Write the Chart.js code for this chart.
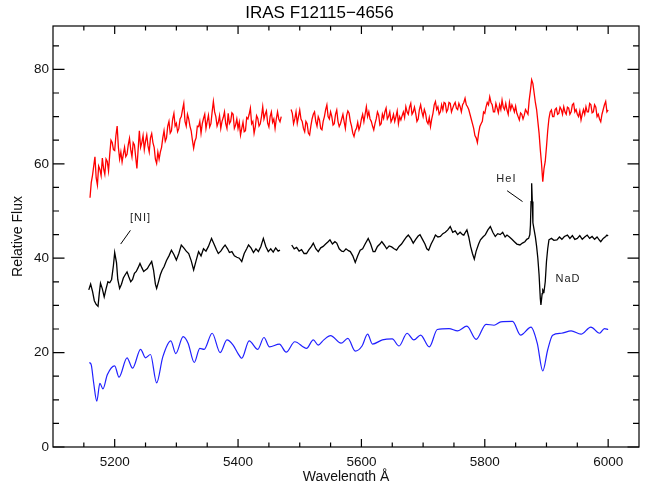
<!DOCTYPE html>
<html><head><meta charset="utf-8">
<script src="https://cdn.jsdelivr.net/npm/chart.js@4.4.1/dist/chart.umd.min.js"></script>
<style>html,body{margin:0;padding:0;background:#fff;}#wrap{width:648px;height:481px;}</style>
</head><body><div id="wrap"><canvas id="c" width="648" height="481"></canvas></div>
<script>
const TITLE = 'IRAS F12115\u22124656';
const X_TITLE = 'Wavelength \u00C5';
const Y_TITLE = 'Relative Flux';
const X_MAJOR = [5200, 5400, 5600, 5800, 6000];
const X_MINOR = [5150, 5250, 5300, 5350, 5450, 5500, 5550, 5650, 5700, 5750, 5850, 5900, 5950];
const Y_MAJOR = [0, 20, 40, 60, 80];
const Y_MINOR = [5, 10, 15, 25, 30, 35, 45, 50, 55, 65, 70, 75, 85];

// red spectrum: sampled every 2 A from 5160 A (null = gap)
const RED_START = 5160, RED_STEP = 2;
const redFlux = [
  52.8, 56.0, 57.5, 59.5, 61.5, 57.0, 55.5, 59.5, 58.8, 57.5, 61.2, 59.0, 57.8, 61.0, 60.5, 58.5, 62.0, 65.0, 64.5, 63.0,
  62.8, 66.0, 68.0, 63.5, 61.0, 62.5, 60.4, 62.0, 63.5, 61.5, 62.0, 64.0, 65.4, 63.0, 61.5, 64.5, 64.0, 61.5, 59.0, 63.0,
  67.0, 63.5, 64.5, 66.0, 63.0, 64.8, 66.1, 63.8, 62.5, 65.5, 66.4, 64.5, 63.5, 61.0, 60.1, 62.5, 61.0, 62.5, 63.5, 65.5,
  67.0, 64.8, 65.5, 68.0, 69.0, 66.5, 67.0, 69.5, 70.7, 68.0, 68.6, 66.8, 67.5, 69.5, 70.0, 71.5, 72.8, 69.0, 68.0, 70.5,
  69.5, 68.0, 67.0, 65.0, 63.3, 64.8, 65.5, 68.0, 67.9, 69.0, 66.5, 68.5, 69.6, 70.5, 67.5, 69.0, 70.3, 67.8, 68.5, 71.0,
  73.2, 71.0, 70.0, 68.0, 68.8, 70.2, 67.5, 69.0, 69.8, 71.0, 68.5, 67.5, 70.7, 68.5, 69.0, 70.8, 70.5, 67.5, 68.2, 69.5,
  67.5, 68.8, 66.1, 67.5, 68.8, 66.8, 67.0, 69.8, 69.5, 70.5, 71.8, 68.5, 69.0, 66.5, 67.9, 70.2, 69.6, 68.0, 68.5, 70.0,
  72.1, 69.5, 70.5, 71.2, 68.6, 67.8, 70.0, 71.0, 68.8, 69.5, 67.5, 69.5, 71.0, 69.5, 68.9, 70.0, null, null, null, null,
  null, null, null, 71.5, 70.7, 68.5, 69.5, 71.0, 68.6, 70.0, 71.4, 69.5, 69.0, 67.5, 66.8, 69.0, 68.5, 66.5, 66.1, 68.0,
  69.5, 70.5, 71.0, 69.0, 68.0, 70.0, 69.3, 67.5, 67.2, 69.0, 70.0, 71.5, 72.5, 70.0, 69.5, 71.0, 70.0, 68.2, 68.5, 70.5,
  71.4, 69.0, 67.9, 68.5, 69.5, 70.5, 68.9, 67.5, 70.2, 71.2, 70.7, 69.0, 68.0, 66.5, 65.8, 67.0, 67.5, 68.8, 67.2, 68.0,
  69.5, 70.5, 68.9, 70.5, 72.1, 70.0, 71.0, 69.5, 69.0, 68.0, 67.2, 68.5, 69.5, 71.0, 70.3, 68.2, 68.5, 70.5, 69.6, 71.0,
  71.8, 69.5, 70.0, 71.0, 68.9, 69.5, 70.5, 69.0, 70.0, 71.2, 68.5, 70.0, 69.3, 70.2, 71.0, 69.8, 72.1, 71.0, 70.5, 72.0,
  72.8, 70.5, 71.0, 72.0, 70.7, 69.0, 69.5, 71.5, 72.5, 71.0, 70.0, 71.5, 70.7, 69.0, 68.5, 69.8, 67.9, 69.5, 70.7, 72.5,
  73.2, 71.5, 72.1, 70.5, 71.0, 72.5, 71.4, 73.0, 72.8, 71.0, 71.5, 73.0, 72.8, 71.0, 71.8, 72.5, 73.0, 71.8, 71.5, 72.8,
  72.1, 71.0, 72.5, 73.0, 73.9, 72.5, 72.1, 71.5, 70.5, 69.5, 68.5, 67.5, 66.0, 65.5, 64.5, 66.5, 67.9, 68.5, 69.0, 71.0,
  70.7, 72.0, 73.0, 72.5, 74.2, 73.0, 72.5, 71.0, 71.0, 72.8, 71.8, 70.8, 72.5, 71.5, 73.5, 72.0, 71.5, 72.8, 71.4, 70.5,
  73.0, 71.5, 72.5, 71.8, 71.0, 72.2, 70.7, 70.0, 69.3, 70.8, 70.5, 69.5, 70.3, 71.5, 71.0, 70.5, 73.5, 75.5, 77.8, 77.0,
  75.0, 73.0, 71.5, 69.0, 66.5, 63.0, 60.0, 56.2, 59.0, 60.5, 63.6, 67.0, 69.6, 71.0, 71.4, 70.0, 70.0, 71.5, 71.8, 70.5,
  70.7, 72.0, 71.5, 70.5, 72.1, 71.0, 70.5, 72.0, 71.8, 70.5, 71.0, 72.5, 72.8, 71.0, 71.5, 70.5, 70.0, 71.2, 69.3, 70.5,
  71.5, 70.5, 72.1, 71.0, 71.0, 72.8, 72.5, 70.8, 71.0, 72.5, 72.0, 70.0, 70.5, 69.5, 68.9, 70.5, 71.5, 72.5, 73.2, 71.0,
  71.4
];

const blackWave = [
  5158, 5161, 5164, 5167, 5170, 5173, 5175, 5177, 5180, 5183, 5186, 5189, 5192, 5195, 5198, 5200,
  5203, 5205, 5208, 5211, 5214, 5217, 5220, 5223, 5226, 5229, 5232, 5235, 5238, 5241, 5244, 5247,
  5250, 5253, 5256, 5260, 5263, 5266, 5268, 5271, 5274, 5277, 5280, 5284, 5288, 5292, 5296, 5300,
  5304, 5308, 5312, 5316, 5320, 5324, 5328, 5332, 5336, 5340, 5344, 5348, 5352, 5357, 5361, 5365,
  5368, 5372, 5376, 5379, 5383, 5386, 5390, 5394, 5398, 5402, 5406, 5410, 5414, 5417, 5421, 5425,
  5429, 5433, 5437, 5441, 5445, 5449, 5453, 5457, 5461, 5465, 5468, 5477,
  5487, 5491, 5495, 5499, 5503, 5507, 5511, 5515, 5519, 5522, 5526, 5530, 5534, 5538, 5542, 5546,
  5549, 5553, 5557, 5560, 5564, 5568, 5571, 5575, 5579, 5582, 5586, 5590, 5594, 5598, 5602, 5606,
  5611, 5615, 5619, 5622, 5626, 5630, 5633, 5637, 5641, 5645, 5649, 5653, 5657, 5661, 5665, 5669,
  5673, 5676, 5680, 5684, 5688, 5692, 5695, 5699, 5703, 5706, 5709, 5713, 5717, 5720, 5724, 5728,
  5732, 5736, 5740, 5744, 5748, 5752, 5756, 5760, 5764, 5766, 5769, 5771, 5774, 5777, 5780, 5783,
  5786, 5790, 5793, 5797, 5801, 5805, 5809, 5813, 5817, 5821, 5825, 5829, 5833, 5836, 5840, 5844,
  5848, 5852, 5857, 5861, 5865, 5868, 5871, 5873, 5874, 5875, 5876, 5877, 5878, 5880, 5882, 5884,
  5886, 5888, 5890, 5891, 5893, 5894, 5896, 5898, 5900, 5902, 5904, 5908, 5912, 5917, 5921, 5925,
  5929, 5934, 5938, 5942, 5946, 5950, 5954, 5958, 5962, 5966, 5970, 5974, 5978, 5982, 5986, 5988,
  5992, 5996, 5998, 6000
];
const blackFlux = [
  33.3, 34.5, 33.0, 31.0, 30.2, 29.8, 32.5, 34.7, 33.5, 31.8, 33.5, 35.0, 34.8, 35.5, 38.5, 41.2,
  39.0, 35.5, 33.6, 34.5, 35.8, 36.5, 37.1, 36.0, 35.0, 35.5, 36.8, 37.2, 38.0, 38.9, 38.0, 37.2,
  37.5, 37.8, 38.5, 39.3, 37.5, 34.5, 33.6, 35.0, 36.5, 37.5, 38.2, 39.5, 40.5, 41.7, 40.8, 39.6,
  41.0, 42.8, 42.2, 41.5, 41.0, 39.5, 37.5, 39.5, 41.4, 40.5, 42.0, 41.5, 42.5, 44.2, 43.0, 41.8,
  41.0, 41.5, 42.3, 42.8, 42.0, 41.2, 41.4, 40.5, 40.2, 40.0, 39.3, 41.0, 42.0, 42.8, 42.2, 41.2,
  42.0, 41.4, 42.5, 44.2, 42.5, 41.4, 42.0, 41.3, 42.2, 41.5, 41.7, null,
  42.8, 42.0, 42.3, 41.5, 41.8, 41.0, 41.0, 41.8, 42.5, 43.2, 42.0, 41.4, 42.2, 42.5, 43.0, 43.5,
  43.9, 43.0, 43.5, 43.2, 42.0, 41.5, 41.4, 42.0, 41.6, 41.4, 40.5, 39.1, 40.5, 41.7, 42.0, 43.0,
  44.2, 43.0, 41.4, 41.4, 42.5, 43.0, 43.5, 42.8, 42.0, 42.6, 42.4, 42.0, 41.7, 42.5, 43.0, 43.8,
  44.5, 44.9, 44.2, 43.2, 44.0, 44.7, 45.0, 44.0, 43.0, 42.0, 41.7, 43.0, 44.0, 44.9, 44.5, 44.6,
  45.2, 45.5, 46.0, 46.7, 45.5, 45.8, 45.0, 45.5, 45.0, 44.9, 45.6, 46.0, 44.5, 42.5, 41.0, 39.8,
  41.5, 43.0, 43.9, 44.5, 45.0, 46.0, 46.7, 45.5, 44.6, 45.2, 45.0, 45.5, 44.5, 44.9, 44.5, 44.0,
  43.5, 43.0, 42.8, 43.2, 43.5, 44.0, 44.2, 45.0, 47.0, 52.0, 55.9, 52.0, 47.5, 46.0, 44.5, 42.5,
  40.0, 36.5, 31.5, 30.1, 32.5, 33.3, 32.9, 35.0, 39.3, 42.0, 43.9, 44.2, 43.8, 43.9, 44.5, 44.0,
  44.6, 44.9, 44.2, 44.8, 44.0, 44.2, 44.8, 44.0, 44.5, 44.9, 44.2, 44.6, 44.0, 44.5, 43.8, 43.5,
  44.2, 44.6, 44.9, 44.7
];

const blueWave = [
  5159, 5162, 5166, 5171, 5176, 5181, 5188, 5200, 5207, 5220, 5229, 5242, 5250, 5258, 5268, 5278,
  5291, 5299, 5311, 5319, 5329, 5338, 5345, 5358, 5371, 5382, 5392, 5400, 5406, 5418, 5432, 5442,
  5451, 5467, 5478, 5492, 5511, 5522, 5530, 5539, 5550, 5567, 5578, 5590, 5601, 5610, 5618, 5634,
  5650, 5661, 5674, 5685, 5696, 5710, 5723, 5742, 5756, 5771, 5786, 5802, 5815, 5826, 5845, 5858,
  5875, 5885, 5894, 5902, 5910, 5924, 5940, 5956, 5972, 5986, 5994, 6000
];
const blueFlux = [
  17.9, 17.4, 13.5, 9.7, 13.5, 12.3, 15.3, 17.2, 14.8, 18.9, 16.7, 20.7, 18.9, 19.6, 13.6, 19.1,
  22.5, 19.8, 23.4, 22.0, 17.9, 20.9, 20.7, 24.1, 20.0, 22.7, 21.6, 19.8, 18.8, 22.5, 20.7, 23.2,
  21.2, 21.8, 20.1, 22.3, 20.9, 22.7, 21.6, 22.7, 23.6, 22.0, 23.0, 20.3, 21.4, 23.9, 21.8, 22.7,
  22.9, 21.4, 24.1, 22.7, 23.7, 21.2, 24.9, 25.1, 24.6, 25.6, 22.8, 26.0, 25.8, 26.5, 26.6, 23.7,
  25.4, 22.0, 16.1, 20.6, 23.7, 24.1, 24.6, 23.9, 25.4, 24.1, 25.1, 24.9
];

const LINE_LABELS = [
  { text: '[NI]', x: 5242, y: 48.6, from: [5209.7, 43.0], to: [5225.5, 45.9] },
  { text: 'HeI', x: 5835, y: 56.8, from: [5836.2, 54.3], to: [5861.2, 52.0] },
  { text: 'NaD', x: 5935, y: 35.7, from: null, to: null }
];

const redPts = redFlux.map((v, i) => ({ x: RED_START + i * RED_STEP, y: v }));
const blackPts = blackWave.map((w, i) => ({ x: w, y: blackFlux[i] }));
const bluePts = blueWave.map((w, i) => ({ x: w, y: blueFlux[i] }));

const framePlugin = {
  id: 'frame',
  afterDatasetsDraw(chart) {
    const { ctx, chartArea: a, scales: { x, y } } = chart;
    ctx.save();
    ctx.strokeStyle = '#000';
    ctx.lineWidth = 1.2;
    ctx.strokeRect(a.left, a.top, a.right - a.left, a.bottom - a.top);
    ctx.beginPath();
    const tx = (v, len) => {
      const p = x.getPixelForValue(v);
      ctx.moveTo(p, a.bottom); ctx.lineTo(p, a.bottom - len);
      ctx.moveTo(p, a.top); ctx.lineTo(p, a.top + len);
    };
    const ty = (v, len) => {
      const p = y.getPixelForValue(v);
      ctx.moveTo(a.left, p); ctx.lineTo(a.left + len, p);
      ctx.moveTo(a.right, p); ctx.lineTo(a.right - len, p);
    };
    X_MAJOR.forEach(v => tx(v, 8));
    X_MINOR.forEach(v => tx(v, 4.5));
    Y_MAJOR.forEach(v => ty(v, 11.5));
    Y_MINOR.forEach(v => ty(v, 6));
    ctx.stroke();

    ctx.fillStyle = '#222';
    ctx.strokeStyle = '#000';
    ctx.lineWidth = 1;
    ctx.font = '11px "Liberation Sans", Arial, sans-serif';
    ctx.textAlign = 'center';
    ctx.textBaseline = 'middle';
    try { ctx.letterSpacing = '1px'; } catch (e) {}
    LINE_LABELS.forEach(l => {
      ctx.fillText(l.text, x.getPixelForValue(l.x), y.getPixelForValue(l.y));
      if (l.from) {
        ctx.beginPath();
        ctx.moveTo(x.getPixelForValue(l.from[0]), y.getPixelForValue(l.from[1]));
        ctx.lineTo(x.getPixelForValue(l.to[0]), y.getPixelForValue(l.to[1]));
        ctx.stroke();
      }
    });
    ctx.restore();
  }
};

const FONT = '"Liberation Sans", Arial, Helvetica, sans-serif';

new Chart(document.getElementById('c'), {
  type: 'line',
  data: {
    datasets: [
      { label: 'red', data: redPts, borderColor: '#ff0000', borderWidth: 1.3, pointRadius: 0, tension: 0, spanGaps: false },
      { label: 'black', data: blackPts, borderColor: '#000000', borderWidth: 1.3, pointRadius: 0, tension: 0, spanGaps: false },
      { label: 'blue', data: bluePts, borderColor: '#2020ff', borderWidth: 1.2, pointRadius: 0, cubicInterpolationMode: 'monotone' }
    ]
  },
  options: {
    responsive: false,
    animation: false,
    devicePixelRatio: 1,
    layout: { padding: { left: 0, right: 9, top: 0, bottom: 0 } },
    plugins: {
      legend: { display: false },
      tooltip: { enabled: false },
      title: {
        display: true, text: TITLE, color: '#000',
        font: { family: FONT, size: 17, weight: 'normal', lineHeight: 1.2 },
        padding: { top: 3, bottom: 2.6 }
      }
    },
    scales: {
      x: {
        type: 'linear', min: 5100, max: 6050,
        grid: { display: false, drawTicks: false },
        border: { display: false },
        afterBuildTicks: s => { s.ticks = X_MAJOR.map(v => ({ value: v })); },
        afterFit: s => { s.height = 34; },
        ticks: { color: '#111', font: { family: FONT, size: 13.5 }, padding: 7, maxRotation: 0, autoSkip: false, callback: v => String(v) },
        title: { display: true, text: X_TITLE, color: '#111', font: { family: FONT, size: 14, lineHeight: 0.6 }, padding: 0 }
      },
      y: {
        type: 'linear', min: 0, max: 89.2,
        grid: { display: false, drawTicks: false },
        border: { display: false },
        afterBuildTicks: s => { s.ticks = Y_MAJOR.map(v => ({ value: v })); },
        afterFit: s => { s.width = 53; },
        ticks: { color: '#111', font: { family: FONT, size: 13.5 }, padding: 4, callback: v => String(v) },
        title: { display: true, text: Y_TITLE, color: '#111', font: { family: FONT, size: 14, lineHeight: 1.2 }, padding: { top: 9.6, bottom: 0 } }
      }
    }
  },
  plugins: [framePlugin]
});
</script></body></html>
